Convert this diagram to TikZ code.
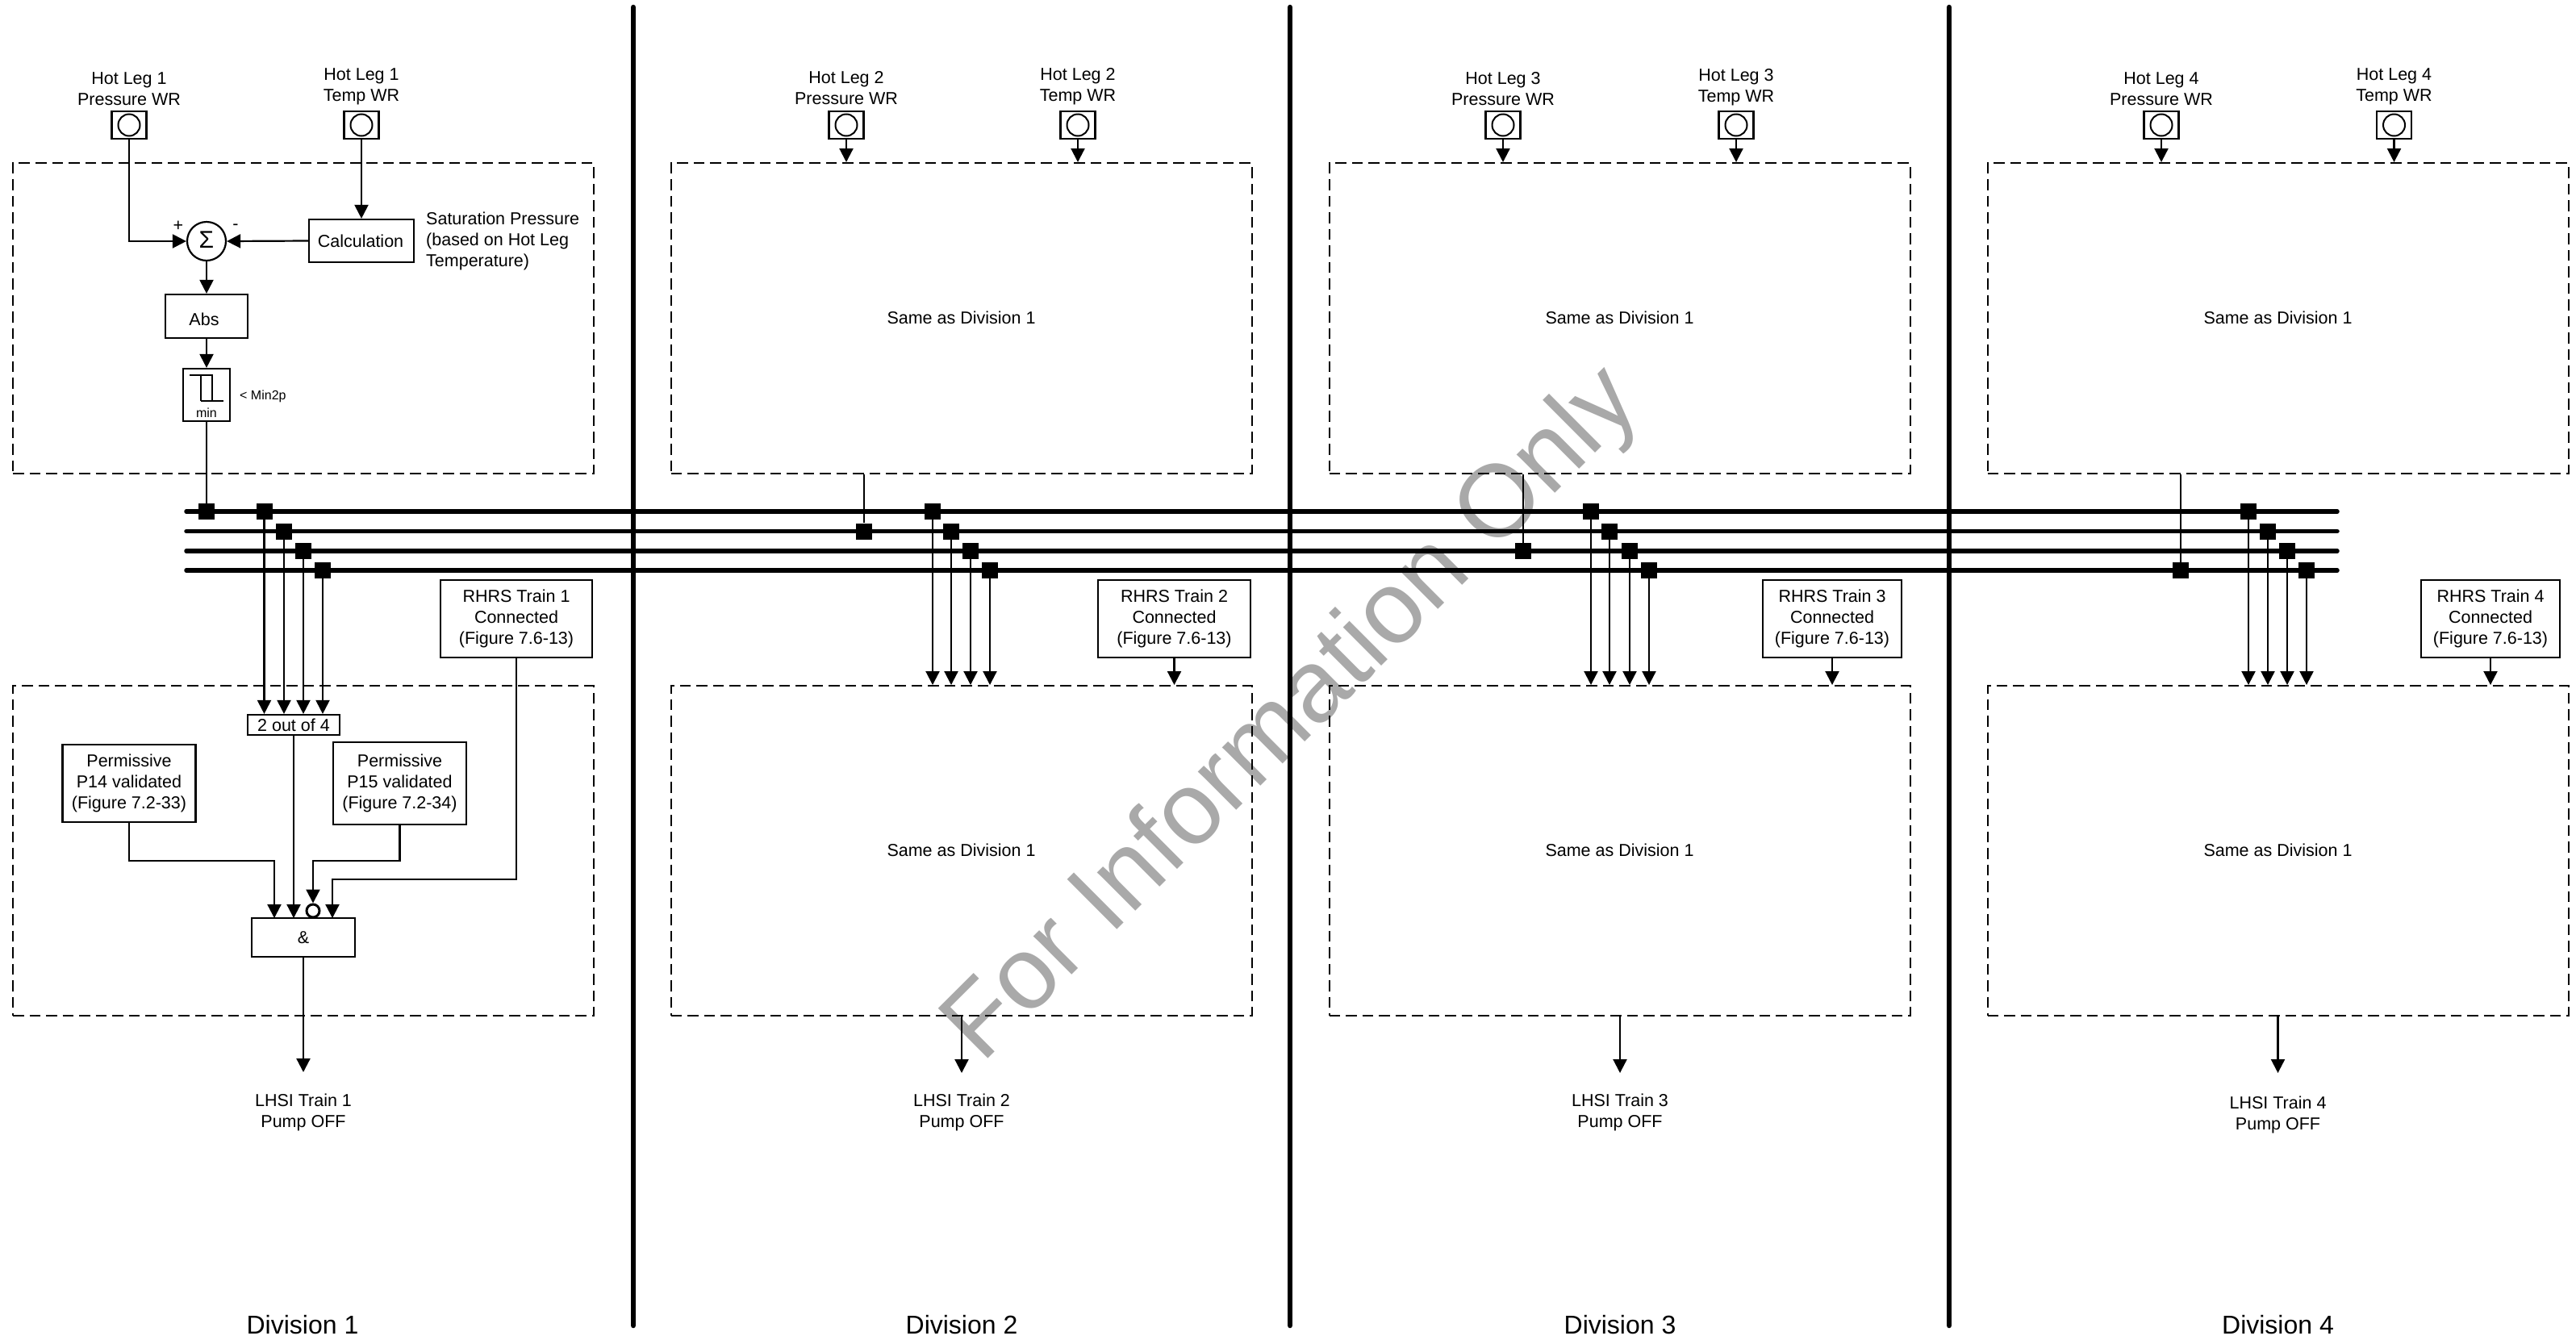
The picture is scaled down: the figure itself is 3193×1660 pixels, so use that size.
\documentclass[tikz,border=0pt]{standalone}
\usepackage{fontspec}
\setmainfont{Liberation Sans}
\usetikzlibrary{arrows.meta,calc}
\definecolor{wmgray}{HTML}{A9A9A9}
\tikzset{
  txt/.style={font=\fontsize{21.5}{25.7}\selectfont,align=center,inner sep=0pt,text=black},
  smalltxt/.style={font=\fontsize{16}{19}\selectfont,inner sep=0pt},
  divtxt/.style={font=\fontsize{32}{36}\selectfont,inner sep=0pt},
  box/.style={draw,line width=2.2pt,txt},
  dbox/.style={draw,line width=2pt,dash pattern=on 13.5pt off 7pt,minimum width=720pt,inner sep=0pt},
  sensorbox/.style={draw,line width=2.2pt,minimum width=43pt,minimum height=34pt,inner sep=0pt},
  sensorin/.style={draw,line width=2pt,circle,minimum size=27pt,inner sep=0pt},
  tap/.style={fill=black,minimum size=20pt,inner sep=0pt},
  conn/.style={line width=2.2pt},
  arr/.style={line width=2.2pt,-{Triangle[length=17pt,width=17pt]}},
  busline/.style={line width=5.5pt,line cap=round},
  divbar/.style={line width=6.5pt,line cap=round},
}
\begin{document}
\begin{tikzpicture}[x=1pt,y=-1pt]
\useasboundingbox (0,0) rectangle (3193,1660);
% watermark
\node[font=\fontsize{127}{130}\selectfont,text=wmgray,rotate=44.9,inner sep=0pt,anchor=base] (wm) at (1627,911) {For Information Only};
% division bars
\foreach \i/\x in {1/785,2/1599,3/2416}{
  \coordinate (bart\i) at (\x,9);
  \coordinate (barb\i) at (\x,1643);
  \draw[divbar] (bart\i) -- (barb\i);
}
% buses
\foreach \i/\y in {1/634,2/658.5,3/683,4/707}{
  \coordinate (busl\i) at (231,\y);
  \coordinate (busr\i) at (2897,\y);
  \draw[busline] (busl\i) -- (busr\i);
}
% ---------- Division 1 ----------
\node[dbox,minimum height=385pt] (u1) at (376,394.5) {};
\node[dbox,minimum height=409pt] (l1) at (376,1054.5) {};
\node[sensorbox] (s1a) at (160,155) {};
\node[sensorin] (c1a) at (s1a) {};
\node[sensorbox] (s1b) at (448,155) {};
\node[sensorin] (c1b) at (s1b) {};
\node[txt] (h1a) at (160,110) {Hot Leg 1\\Pressure WR};
\node[txt] (h1b) at (448,107) {Hot Leg 1\\Temp WR};
\node[draw,line width=2.2pt,circle,minimum size=48pt,inner sep=0pt] (sum) at (256,299) {};
\node[font=\fontsize{30}{32}\selectfont,inner sep=0pt] (sigma) at (256,297) {Σ};
\node[box,minimum width=130pt,minimum height=53pt] (calc) at (448,298.5) {};
\node[txt] (calctxt) at (447,298.5) {Calculation};
\node[txt,align=left,anchor=west] (sat) at (528,299) {Saturation Pressure\\(based on Hot Leg\\Temperature)};
\node[txt] (plus) at (221,280) {+};
\node[txt] (minus) at (292,281) {-};
\node[box,minimum width=102pt,minimum height=54pt] (abs) at (256,392) {};
\node[txt] (abstxt) at (253,396) {Abs};
\node[draw,line width=2.2pt,minimum width=58pt,minimum height=65pt,inner sep=0pt] (tm) at (256,489.5) {};
\node[smalltxt] (tmtxt) at (256,512) {min};
\node[smalltxt,anchor=west] (tmset) at (297,491) {< Min2p};
\draw[line width=1.8pt] (235,465) -- (263,465) -- (263,497) (249,465) -- (249,497) (277,497) -- (249,497);
\node[tap] (j1) at (256,634) {};
\node[tap] (t1a) at (327.5,634) {};
\node[tap] (t1b) at (352,658.5) {};
\node[tap] (t1c) at (376,683) {};
\node[tap] (t1d) at (400,707) {};
\node[box,minimum width=114pt,minimum height=25pt] (two) at (364,898.5) {2 out of 4};
\node[box,minimum width=165pt,minimum height=96pt] (p14) at (160,971) {Permissive\\P14 validated\\(Figure 7.2-33)};
\node[box,minimum width=165pt,minimum height=102pt] (p15) at (495.5,971) {Permissive\\P15 validated\\(Figure 7.2-34)};
\node[box,minimum width=188pt,minimum height=96pt] (r1) at (640,767) {RHRS Train 1\\Connected\\(Figure 7.6-13)};
\node[box,minimum width=128pt,minimum height=48pt] (and) at (376,1162) {\&};
\node[draw,line width=3pt,circle,minimum size=16pt,inner sep=0pt] (inv) at (388,1129) {};
\coordinate (a1) at (340,1138);
\coordinate (a2) at (364,1138);
\coordinate (a4) at (412,1138);
\coordinate (rt1) at (0,1067);
\coordinate (rt2) at (0,1090);
\coordinate (o1) at (376,1329);
\node[txt] (lhsi1) at (376,1379) {LHSI Train 1\\Pump OFF};
\node[divtxt] (dv1) at (375,1642) {Division 1};
\draw[arr] (s1a.south) |- (sum.west);
\draw[arr] (s1b.south) -- (calc.north);
\draw[arr] (calc.west) -- (sum.east);
\draw[arr] (sum.south) -- (abs.north);
\draw[arr] (abs.south) -- (tm.north);
\draw[conn] (tm.south) -- (j1);
\foreach \t in {t1a,t1b,t1c,t1d} \draw[arr] (\t) -- (\t |- two.north);
\draw[arr] (p14.south) |- (rt1 -| a1) -- (a1);
\draw[arr] (two.south -| a2) -- (a2);
\draw[arr] (p15.south) |- (rt1 -| inv) -- (inv.north);
\draw[arr] (r1.south) |- (rt2 -| a4) -- (a4);
\draw[arr] (and.south) -- (o1);
% ---------- Divisions 2 to 4 ----------
\foreach \d/\cx/\sa/\sb/\ya/\yb/\jx/\jy/\ta/\tb/\tc/\td/\rx/\rw/\ox/\ly in {
  2/1191.5/1049/1336/109/107/1071/658.5/1156/1179/1203/1227/1455.5/189/1192/1379,
  3/2007.5/1863/2152/110/108/1888/683/1972/1995/2020/2044/2271/172/2008/1379,
  4/2823.5/2679/2967.5/110/107/2703/707/2787/2811/2835/2859/3087/172/2823.5/1382}{
  \node[dbox,minimum height=385pt] (u\d) at (\cx,394.5) {};
  \node[dbox,minimum height=409pt] (l\d) at (\cx,1054.5) {};
  \node[txt] (su\d) at (\cx,394) {Same as Division 1};
  \node[txt] (sl\d) at (\cx,1054) {Same as Division 1};
  \node[sensorbox] (s\d a) at (\sa,155) {};
  \node[sensorin] (c\d a) at (s\d a) {};
  \node[sensorbox] (s\d b) at (\sb,155) {};
  \node[sensorin] (c\d b) at (s\d b) {};
  \node[txt] (h\d a) at (\sa,\ya) {Hot Leg \d\\Pressure WR};
  \node[txt] (h\d b) at (\sb,\yb) {Hot Leg \d\\Temp WR};
  \draw[arr] (s\d a.south) -- (s\d a.south |- u\d.north);
  \draw[arr] (s\d b.south) -- (s\d b.south |- u\d.north);
  \node[tap] (j\d) at (\jx,\jy) {};
  \draw[conn] (j\d |- u\d.south) -- (j\d);
  \node[tap] (t\d a) at (\ta,634) {};
  \node[tap] (t\d b) at (\tb,658.5) {};
  \node[tap] (t\d c) at (\tc,683) {};
  \node[tap] (t\d d) at (\td,707) {};
  \draw[arr] (t\d a) -- (t\d a |- l\d.north);
  \draw[arr] (t\d b) -- (t\d b |- l\d.north);
  \draw[arr] (t\d c) -- (t\d c |- l\d.north);
  \draw[arr] (t\d d) -- (t\d d |- l\d.north);
  \node[box,minimum width=\rw pt,minimum height=96pt] (r\d) at (\rx,767) {RHRS Train \d\\Connected\\(Figure 7.6-13)};
  \draw[arr] (r\d.south) -- (r\d.south |- l\d.north);
  \coordinate (o\d) at (\ox,1330);
  \draw[arr] (o\d |- l\d.south) -- (o\d);
  \node[txt] (lhsi\d) at (\ox,\ly) {LHSI Train \d\\Pump OFF};
  \node[divtxt] (dv\d) at (\ox,1642) {Division \d};
}
\end{tikzpicture}
\end{document}
